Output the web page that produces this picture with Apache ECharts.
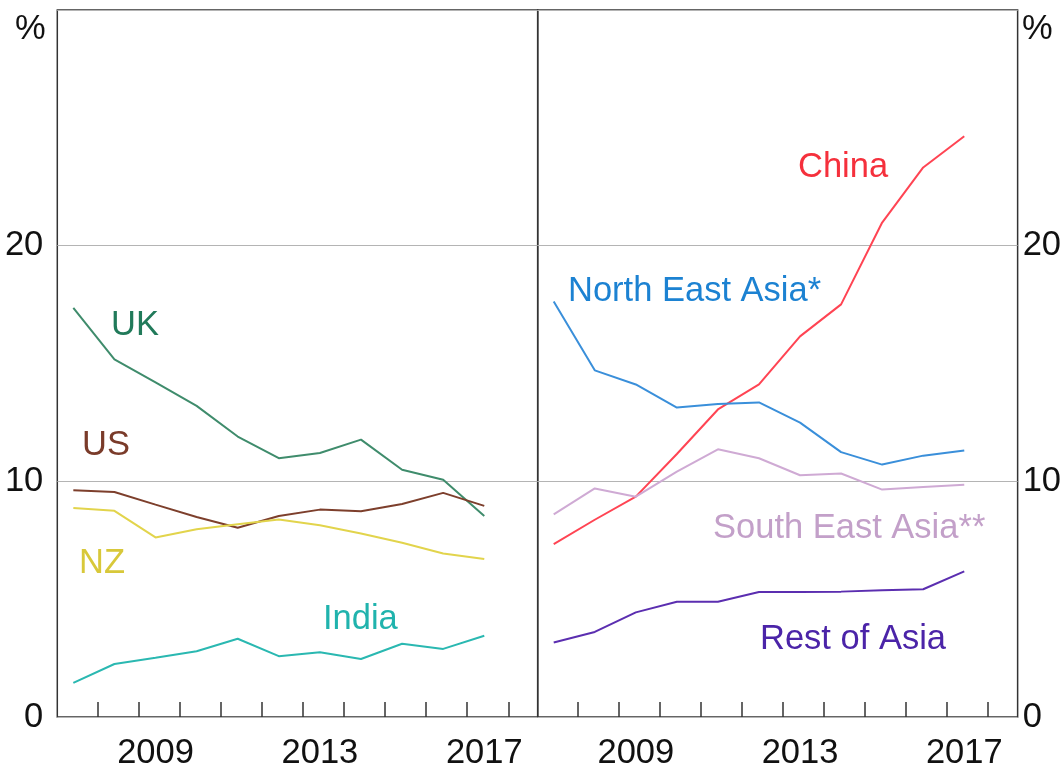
<!DOCTYPE html>
<html>
<head>
<meta charset="utf-8">
<script src="https://cdn.jsdelivr.net/npm/echarts@6/dist/echarts.min.js"></script>
<style>
html,body{margin:0;padding:0;background:#fff;}
#chart{width:1064px;height:771px;}
</style>
</head>
<body>
<div id="chart"></div>
<script>
// ---- data ----
var years = [2007, 2008, 2009, 2010, 2011, 2012, 2013, 2014, 2015, 2016, 2017];
var xTickLabels = [2009, 2013, 2017];
var yTickLabels = [0, 10, 20];

var uk    = [17.36, 15.18, 14.2, 13.2, 11.9, 10.98, 11.2, 11.77, 10.49, 10.07, 8.53];
var us    = [9.62, 9.55, 9.01, 8.49, 8.03, 8.53, 8.80, 8.73, 9.04, 9.51, 8.96];
var nz    = [8.87, 8.75, 7.62, 7.97, 8.18, 8.38, 8.14, 7.79, 7.39, 6.94, 6.70];
var india = [1.45, 2.25, 2.51, 2.79, 3.32, 2.58, 2.75, 2.46, 3.11, 2.89, 3.45];

var china = [7.34, 8.37, 9.35, 11.16, 13.05, 14.11, 16.15, 17.51, 20.98, 23.32, 24.64];
var nea   = [17.63, 14.71, 14.11, 13.13, 13.28, 13.35, 12.49, 11.24, 10.71, 11.09, 11.31];
var sea   = [8.60, 9.70, 9.35, 10.41, 11.36, 10.98, 10.26, 10.33, 9.65, 9.76, 9.85];
var roa   = [3.16, 3.61, 4.44, 4.89, 4.89, 5.30, 5.30, 5.32, 5.38, 5.42, 6.18];

function pairs(arr){ return years.map(function(y,i){ return [y, arr[i]]; }); }

var FONT = 'Liberation Sans, Arial, sans-serif';
var FS = 34.5;
var tickPos = years.map(function(y){ return y + 0.584; });

function xAxis(gi){
  return {
    type:'value', gridIndex:gi, min:2006.61, max:2018.30,
    axisLine:{show:false},
    splitLine:{show:false},
    axisTick:{show:true, inside:true, length:15, customValues:tickPos,
      lineStyle:{color:'#333', width:1.5}},
    axisLabel:{show:true, customValues:xTickLabels, margin:19,
      color:'#111', fontSize:FS, fontFamily:FONT,
      formatter:function(v){ return String(Math.round(v)); }}
  };
}
function yAxis(gi, pos, margin){
  return {
    type:'value', gridIndex:gi, position:pos, min:0, max:30, interval:10,
    axisLine:{show:false}, axisTick:{show:false},
    splitLine:{show:true, lineStyle:{color:'#b4b4b4', width:1.2}},
    axisLabel:{show:true, margin:margin, color:'#111', fontSize:FS, fontFamily:FONT,
      formatter:function(v){ return yTickLabels.indexOf(v) >= 0 ? String(v) : ''; }}
  };
}
function line(name, gi, arr, color){
  return {
    name:name, type:'line', xAxisIndex:gi, yAxisIndex:gi,
    data:pairs(arr), showSymbol:false, symbol:'none', silent:true,
    lineStyle:{color:color, width:2}
  };
}
function label(text, left, cy, color){
  return { type:'text', left:left, top:cy - FS/2 + 3, z:100,
    style:{ text:text, fill:color, font: FS + 'px ' + FONT } };
}

var chart = echarts.init(document.getElementById('chart'), null, {renderer:'canvas'});
chart.setOption({
  animation:false,
  backgroundColor:'#fff',
  grid:[
    {left:57.3, top:10, width:480.4, height:709.3, show:true, borderColor:'#333', borderWidth:1.5, backgroundColor:'transparent'},
    {left:537.7, top:10, width:480.6, height:709.3, show:true, borderColor:'#333', borderWidth:1.5, backgroundColor:'transparent'}
  ],
  xAxis:[xAxis(0), xAxis(1)],
  yAxis:[yAxis(0,'left',14), yAxis(1,'right',5)],
  series:[
    line('UK',0,uk,'#3f8c6c'),
    line('US',0,us,'#7d3f2c'),
    line('NZ',0,nz,'#e2d44c'),
    line('India',0,india,'#2ab8b1'),
    line('China',1,china,'#ff4453'),
    line('North East Asia*',1,nea,'#3a8fda'),
    line('South East Asia**',1,sea,'#cfaad4'),
    line('Rest of Asia',1,roa,'#5b2eb0')
  ],
  graphic:[
    label('%', 15, 26, '#111'),
    label('%', 1022, 26, '#111'),
    label('UK', 111, 322, '#217a5a'),
    label('US', 82, 442, '#7a3b2a'),
    label('NZ', 79, 560, '#d8c83a'),
    label('India', 323, 616, '#20b3ad'),
    label('China', 798, 164, '#f5303c'),
    label('North East Asia*', 568, 288, '#1c82d2'),
    label('South East Asia**', 713, 525, '#c3a0c9'),
    label('Rest of Asia', 760, 636, '#4b24a8')
  ]
});
</script>
</body>
</html>
